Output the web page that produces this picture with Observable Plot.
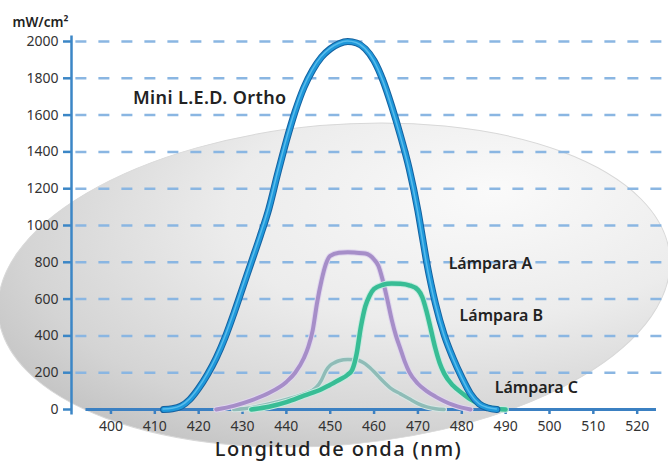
<!DOCTYPE html>
<html><head><meta charset="utf-8">
<script src="https://cdn.jsdelivr.net/npm/d3@7"></script>
<script src="https://cdn.jsdelivr.net/npm/@observablehq/plot@0.6"></script>
<style>
html,body{margin:0;padding:0;background:#ffffff;}
#chart{width:668px;height:465px;}
</style></head><body><div id="chart"></div>
<script>
// ---- data ----
const xTicks = [400, 410, 420, 430, 440, 450, 460, 470, 480, 490, 500, 510, 520];
const yTicks = [0, 200, 400, 600, 800, 1000, 1200, 1400, 1600, 1800, 2000];

const ledX = [412,414,416,418,420,422,424,426,428,430,432,434,436,438,440,442,444,446,448,450,452,454,456,458,460,462,464,466,468,470,471,472,473,474,476,478,480,482,484,486,488];
const ledY = [0,4,18,55,115,190,280,390,520,660,800,940,1090,1280,1460,1620,1750,1845,1915,1960,1988,2000,1992,1960,1895,1790,1650,1490,1310,1080,940,800,680,575,405,280,175,85,30,8,0];

const aX = [424,428,432,436,440,442,444,445,446,447,448,449,450,452,454,456,458,459,460,461,462,463,464,465,466,467,468,470,472,474,476,478,480,482];
const aY = [0,20,50,90,150,200,280,340,430,580,700,790,835,852,855,852,848,838,815,780,700,600,490,400,330,260,205,140,100,70,45,25,10,0];

const bX = [432,436,440,444,448,450,452,454,455,456,457,458,459,460,462,464,466,468,470,471,472,473,474,475,476,478,480,482,484,486,488,490];
const bY = [0,15,40,75,110,135,160,190,215,300,450,560,620,655,678,685,683,675,650,610,530,430,330,250,195,130,90,55,30,12,3,0];

const cX = [428,432,436,440,444,446,447,448,449,450,451,452,454,456,457,458,459,460,461,462,464,466,468,470,472,474,476];
const cY = [0,10,30,55,85,105,125,160,210,240,255,265,272,270,262,248,228,205,180,155,112,85,58,32,14,4,0];

const seriesNames = ["Mini L.E.D. Ortho", "Lámpara A", "Lámpara B", "Lámpara C"];
const labelX = [405, 477, 479.5, 487.5];
const labelY = [1690, 793, 511, 120];

const yUnit = "mW/cm²";
const xTitle = "Longitud de onda (nm)";

// ---- tables ----
const rows = (xs, ys) => xs.map((x, i) => ({x, y: ys[i]}));
const led = rows(ledX, ledY), lampA = rows(aX, aY), lampB = rows(bX, bY), lampC = rows(cX, cY);
const labels = seriesNames.map((name, i) => ({name, x: labelX[i], y: labelY[i], big: i === 0}));

const font = "'Noto Sans', 'Open Sans', sans-serif";
const curve = "monotone-x";

const chart = Plot.plot({
  width: 668, height: 465,
  marginLeft: 71, marginRight: 5, marginTop: 41, marginBottom: 56,
  x: {domain: [391, 526]},
  y: {domain: [0, 2000]},
  style: {fontFamily: font, background: "transparent", overflow: "visible"},
  marks: [
    // dashed grid
    Plot.ruleY(yTicks.filter(d => d > 0), {x1: 392, x2: 525.8, stroke: "#8ab6e2", strokeWidth: 2.5, strokeDasharray: "11,12"}),
    // axes lines
    Plot.ruleX([391], {y1: -30, y2: 2030, stroke: "#3b86c6", strokeWidth: 2.5}),
    Plot.ruleY([0], {x1: 394.3, x2: 524.4, stroke: "#3b80c2", strokeWidth: 3}),
    Plot.axisY({ticks: yTicks, tickSize: 8, tickPadding: 5, stroke: "#3b86c6", strokeWidth: 2.5, fill: "#333", fontSize: 14, label: null, tickFormat: d => String(d)}),
    Plot.axisX({ticks: xTicks, tickSize: 5, tickPadding: 7, stroke: "#3b80c2", strokeWidth: 2.5, fill: "#333", fontSize: 14, label: null, tickFormat: d => String(d)}),
    // lamp C
    Plot.line(lampC, {x: "x", y: "y", curve, stroke: "#d7e6e4", strokeWidth: 5.5}),
    Plot.line(lampC, {x: "x", y: "y", curve, stroke: "#8fbcb7", strokeWidth: 3.5}),
    // lamp A
    Plot.line(lampA, {x: "x", y: "y", curve, stroke: "#e0d6ee", strokeWidth: 6}),
    Plot.line(lampA, {x: "x", y: "y", curve, stroke: "#a68ec8", strokeWidth: 4}),
    // lamp B
    Plot.line(lampB, {x: "x", y: "y", curve, stroke: "#c6eadf", strokeWidth: 6.5}),
    Plot.line(lampB, {x: "x", y: "y", curve, stroke: "#38bd95", strokeWidth: 4.5}),
    // LED: shadow, dark rim, body, highlight
    Plot.line(led, {x: "x", y: "y", curve, stroke: "#000", strokeOpacity: 0.45, strokeWidth: 7, dy: 2, dx: 1, ariaLabel: "led-shadow"}),
    Plot.line(led, {x: "x", y: "y", curve, stroke: "#15619f", strokeWidth: 7}),
    Plot.line(led, {x: "x", y: "y", curve, stroke: "#1f98da", strokeWidth: 5}),
    Plot.line(led, {x: "x", y: "y", curve, stroke: "#72ccf3", strokeOpacity: 0.7, strokeWidth: 1.5, dx: -0.5, dy: -0.5}),
    // series labels
    Plot.text(labels.filter(d => d.big), {x: "x", y: "y", text: "name", textAnchor: "start", fontSize: 18, fontWeight: 600, fill: "#222"}),
    Plot.text(labels.filter(d => !d.big), {x: "x", y: "y", text: "name", textAnchor: "start", fontSize: 16, fontWeight: 600, fill: "#222"}),
    // unit and x title
    Plot.text([yUnit], {frameAnchor: "top-left", dx: -59, dy: -24, textAnchor: "start", fontSize: 13.5, fontWeight: 600, fill: "#222"}),
    Plot.text([xTitle], {frameAnchor: "bottom-left", dx: 267, dy: 46, textAnchor: "middle", fontSize: 20, fontWeight: 500, fill: "#222"})
  ]
});

// decorative background ellipse and blur for the LED shadow
const svg = d3.select(chart);
const defs = svg.insert("defs", ":first-child");
const grad = defs.append("radialGradient").attr("id", "ellGrad")
  .attr("cx", "0.72").attr("cy", "0.3").attr("r", "0.85").attr("fx", "0.75").attr("fy", "0.25");
grad.append("stop").attr("offset", "0").attr("stop-color", "#fafafa");
grad.append("stop").attr("offset", "0.45").attr("stop-color", "#ececec");
grad.append("stop").attr("offset", "0.8").attr("stop-color", "#d4d4d4");
grad.append("stop").attr("offset", "1").attr("stop-color", "#bfbfbf");
defs.append("filter").attr("id", "blur").attr("x", "-20%").attr("y", "-20%").attr("width", "140%").attr("height", "140%")
  .append("feGaussianBlur").attr("stdDeviation", 2);
svg.insert("ellipse", "defs + *")
  .attr("cx", 334).attr("cy", 285).attr("rx", 337).attr("ry", 160)
  .attr("transform", "rotate(-5 334 285)")
  .attr("fill", "url(#ellGrad)").attr("stroke", "#d8d8d8").attr("stroke-width", 1);
svg.selectAll('[aria-label="led-shadow"]').attr("filter", "url(#blur)");
svg.selectAll("text").filter(function() { return this.textContent === xTitle; }).style("letter-spacing", "1.4px");
svg.selectAll("text").filter(function() { return this.textContent === seriesNames[0]; }).style("letter-spacing", "0.4px");

document.getElementById("chart").appendChild(chart);
</script></body></html>
